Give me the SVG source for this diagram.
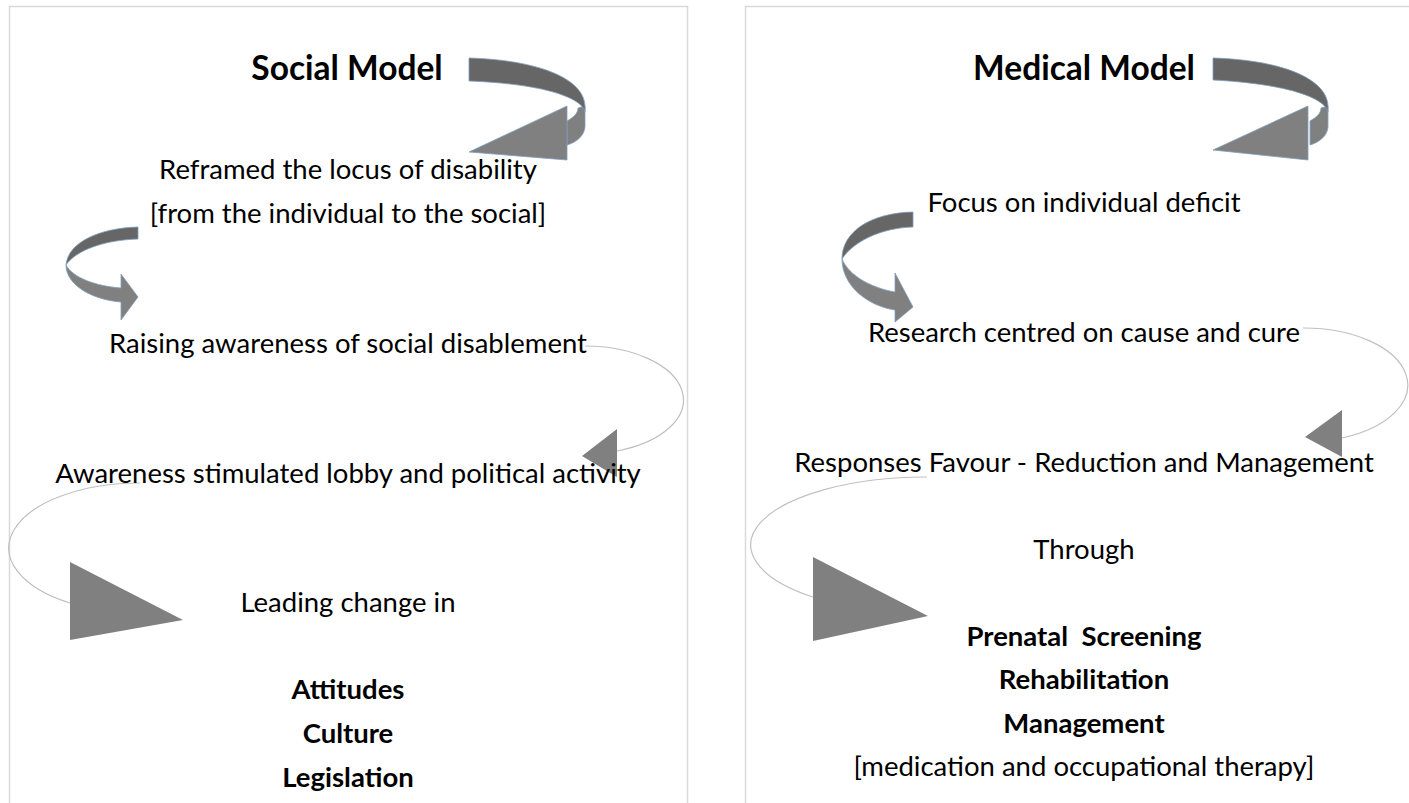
<svg xmlns="http://www.w3.org/2000/svg" width="1409" height="803" viewBox="0 0 1409 803">
<defs>
<style>
.panel{fill:#ffffff;stroke:#d9d9d9;stroke-width:1.5}
.t{font-family:Lato,"Open Sans","Liberation Sans",sans-serif;font-size:27.5px;fill:#000;text-anchor:middle}
.h{font-family:Lato,"Open Sans","Liberation Sans",sans-serif;font-size:33.5px;font-weight:bold;fill:#000;text-anchor:middle}
.b{font-family:Lato,"Open Sans","Liberation Sans",sans-serif;font-size:27.5px;font-weight:bold;fill:#000;text-anchor:middle}
.dark{fill:#666666;stroke:#7f9fc0;stroke-width:0.8}
.light{fill:#808080;stroke:#7f9fc0;stroke-width:0.8}
.arc{fill:none;stroke:#c0c0c0;stroke-width:1.2}
.tri{fill:#808080}
</style>
</defs>
<rect width="1409" height="803" fill="#ffffff"/>
<rect class="panel" x="9.5" y="6.5" width="678" height="820"/>
<rect class="panel" x="745.5" y="6.5" width="700" height="820"/>

<g id="connectors">
  <g id="left-big-curve">
    <path class="light" d="M585,106 L585,127 C584,136 577,142 567,145 L567,121 C574,117 578,113 578,108 Z"/>
    <path class="dark" d="M469,58 C537,60 584,78 585,106 L585,112 C582,98 545,84 469,81 Z"/>
    <path class="light" d="M567,106 L567,160 L469,152 Z"/>
  </g>
  <g id="right-big-curve">
    <path class="light" d="M1328,106 L1328,127 C1327,136 1320,142 1310,145 L1310,121 C1317,117 1321,113 1321,108 Z"/>
    <path class="dark" d="M1213,58 C1280,60 1327,78 1328,106 L1328,112 C1325,98 1288,84 1213,80 Z"/>
    <path class="light" d="M1308,106 L1308,160 L1213,150 Z"/>
  </g>
  <g id="left-small-curve">
    <path class="dark" d="M138,227 C100,228 68,242 66,265 C76,250 105,240 138,239 Z"/>
    <path class="light" d="M66,265 C66,286 94,300 121,302 L121,320 L138,297 L121,274 L121,288 C96,286 73,278 66,265 Z"/>
  </g>
  <g id="right-small-curve">
    <path class="dark" d="M913,212 C870,213 842,232 842,259 C853,242 880,228 913,227 Z"/>
    <path class="light" d="M842,259 C842,286 868,306 895,310 L895,322 L913,307 L895,273 L895,292 C872,288 849,276 842,259 Z"/>
  </g>
  <g id="left-arc-1">
    <path class="arc" d="M585,346 A99,54 0 0 1 617,451"/>
    <path class="tri" d="M617,429 L617,477 L582,456 Z"/>
  </g>
  <g id="left-arc-2">
    <path class="arc" d="M140,483 A131,65 0 0 0 70,603"/>
    <path class="tri" d="M70,562 L70,640 L183,620 Z"/>
  </g>
  <g id="right-arc-1">
    <path class="arc" d="M1303,328 A104,57 0 0 1 1342,438"/>
    <path class="tri" d="M1342,410 L1342,457 L1305,437 Z"/>
  </g>
  <g id="right-arc-2">
    <path class="arc" d="M927,477 A175,68 0 0 0 813,597"/>
    <path class="tri" d="M813,557 L813,641 L928,616 Z"/>
  </g>
</g>

<g id="social-model-title"><text class="h" x="347" y="80">Social Model</text></g>
<g id="reframed"><text class="t" x="348" y="179">Reframed the locus of disability</text><text class="t" x="348" y="223">[from the individual to the social]</text></g>
<g id="raising"><text class="t" x="348" y="353">Raising awareness of social disablement</text></g>
<g id="awareness"><text class="t" x="348" y="483">Awareness stimulated lobby and political activity</text></g>
<g id="leading"><text class="t" x="348" y="612">Leading change in</text></g>
<g id="social-outcomes"><text class="b" x="348" y="699">Attitudes</text><text class="b" x="348" y="743">Culture</text><text class="b" x="348" y="787">Legislation</text></g>

<g id="medical-model-title"><text class="h" x="1084" y="80">Medical Model</text></g>
<g id="focus"><text class="t" x="1084" y="212">Focus on individual deficit</text></g>
<g id="research"><text class="t" x="1084" y="342">Research centred on cause and cure</text></g>
<g id="responses"><text class="t" x="1084" y="472">Responses Favour - Reduction and Management</text></g>
<g id="through"><text class="t" x="1084" y="559">Through</text></g>
<g id="medical-outcomes"><text class="b" x="1084" y="646" xml:space="preserve">Prenatal  Screening</text><text class="b" x="1084" y="689">Rehabilitation</text><text class="b" x="1084" y="733">Management</text><text class="t" x="1084" y="776">[medication and occupational therapy]</text></g>
</svg>
